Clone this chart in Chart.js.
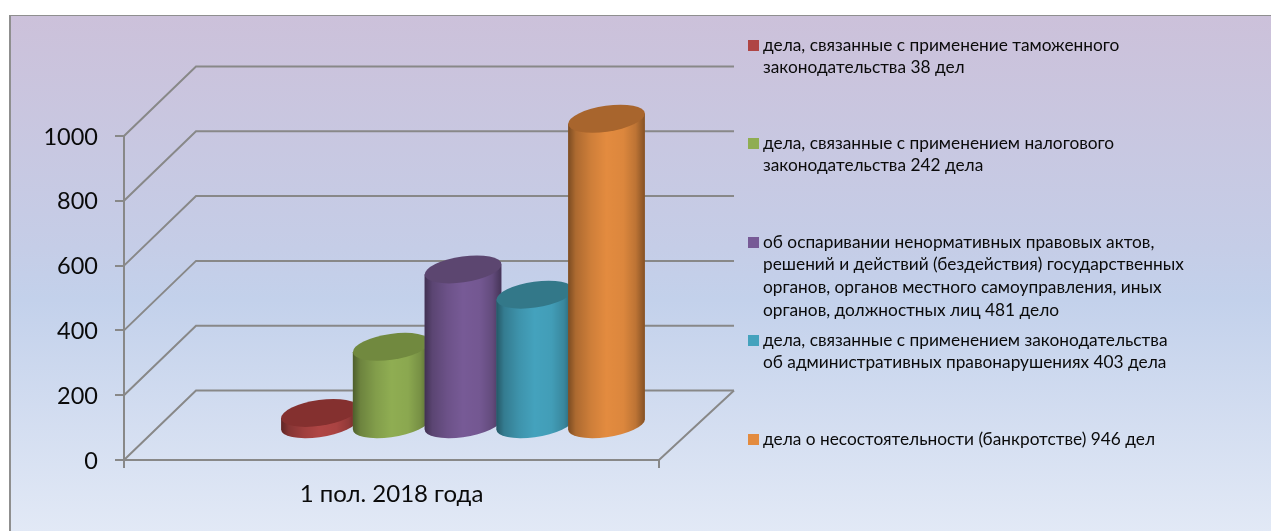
<!DOCTYPE html>
<html>
<head>
<meta charset="utf-8">
<style>
html,body{margin:0;padding:0;background:#fff;width:1271px;height:531px;overflow:hidden}
#frame{position:absolute;left:9px;top:15px;right:-3px;bottom:-3px;border:2px solid #8f8f8f;border-top-width:1.5px;
background:linear-gradient(180deg,#ccc1da 0%,#c5cde7 45%,#c3d1eb 55%,#e2e9f6 100%)}
canvas{position:absolute;left:0;top:0}
</style>
<script src="https://cdn.jsdelivr.net/npm/chart.js@4"></script>
</head>
<body>
<div id="frame"></div>
<canvas id="c" width="1271" height="531"></canvas>
<script>
const categories = ['1 пол. 2018 года'];
const seriesNames = [
  ['дела, связанные с применение таможенного','законодательства 38 дел'],
  ['дела, связанные с применением налогового','законодательства 242 дела'],
  ['об оспаривании ненормативных правовых актов,','решений и действий (бездействия) государственных','органов, органов местного самоуправления, иных','органов, должностных лиц 481 дело'],
  ['дела, связанные с применением законодательства','об административных правонарушениях 403 дела'],
  ['дела о несостоятельности (банкротстве) 946 дел']
];
const seriesValues = [38, 242, 481, 403, 946];
const seriesColors = ['#af4544','#8fad52','#775a96','#44a2bd','#e38b3f'];
const capColors = ['#84302f','#71893f','#5c4670','#337889','#a8652d'];
const legendTops = [45, 143, 242, 340, 439];

const FONT = 'Lato, "Open Sans", sans-serif';
const GRID = '#888888';
const DEPTH_X = 72, DEPTH_Y = 69.5, RIGHT_BACK = 734;
const SHIFT_X = 71.5, SHIFT_Y = 34.75;

const walls = {
  id:'walls',
  beforeDatasetsDraw(chart){
    const {ctx, chartArea:a, scales:{y}} = chart;
    ctx.save();
    ctx.strokeStyle = GRID; ctx.lineWidth = 2;
    y.ticks.forEach(t=>{
      const py = y.getPixelForValue(t.value);
      ctx.beginPath();
      ctx.moveTo(a.left,py);
      ctx.lineTo(a.left+DEPTH_X,py-DEPTH_Y);
      ctx.lineTo(RIGHT_BACK,py-DEPTH_Y);
      ctx.stroke();
    });
    const b = y.getPixelForValue(0);
    ctx.beginPath();
    ctx.moveTo(a.left,b);
    ctx.lineTo(a.right,b);
    ctx.lineTo(RIGHT_BACK,b-DEPTH_Y);
    ctx.stroke();
    ctx.restore();
  }
};

function diskPath(ctx,cx,cy,R,D,from,to){
  ctx.save();
  ctx.transform(R,0,D,-D,cx,cy);
  ctx.arc(0,0,1,from,to,false);
  ctx.restore();
}
const cylinders = {
  id:'cylinders',
  beforeDatasetDraw(){ return false; },
  afterDatasetsDraw(chart){
    const {ctx} = chart;
    seriesValues.forEach((v,i)=>{
      const el = chart.getDatasetMeta(i).data[0];
      const W = el.width*0.535, D = el.width*0.195, R = Math.sqrt(W*W-D*D);
      const cx = el.x+SHIFT_X, top = el.y-SHIFT_Y, base = el.base-SHIFT_Y;
      const s = D*D/W;
      const t0 = Math.atan2(D,R);
      ctx.save();
      const g = ctx.createLinearGradient(cx-W,0,cx+W,0);
      g.addColorStop(0,'rgba(0,0,0,0.46)');
      g.addColorStop(0.1,'rgba(0,0,0,0.24)');
      g.addColorStop(0.3,'rgba(0,0,0,0.09)');
      g.addColorStop(0.5,'rgba(0,0,0,0)');
      g.addColorStop(0.72,'rgba(0,0,0,0.03)');
      g.addColorStop(0.88,'rgba(0,0,0,0.17)');
      g.addColorStop(1,'rgba(0,0,0,0.42)');
      ctx.beginPath();
      ctx.moveTo(cx-W,top+s);ctx.lineTo(cx-W,base+s);
      diskPath(ctx,cx,base,R,D,Math.PI+t0,2*Math.PI+t0);
      ctx.lineTo(cx+W,top-s);
      ctx.closePath();
      ctx.fillStyle = seriesColors[i];
      ctx.fill();
      ctx.fillStyle = g;
      ctx.fill();
      ctx.fillStyle = capColors[i];
      ctx.beginPath();
      diskPath(ctx,cx,top,R,D,0,Math.PI*2);
      ctx.closePath();
      ctx.fill();
      ctx.restore();
    });
  }
};
const sideLegend = {
  id:'sideLegend',
  afterDraw(chart){
    const {ctx} = chart;
    ctx.save();
    ctx.font = '17.3px '+FONT;
    ctx.textBaseline = 'middle';
    ctx.textAlign = 'left';
    seriesNames.forEach((lines,i)=>{
      ctx.fillStyle = seriesColors[i];
      ctx.fillRect(748,legendTops[i]-5,11,11);
      ctx.fillStyle = '#0a0a0a';
      lines.forEach((l,j)=>ctx.fillText(l,763,legendTops[i]+j*22.7));
    });
    ctx.restore();
  }
};

new Chart(document.getElementById('c'),{
  type:'bar',
  data:{
    labels:categories,
    datasets:seriesValues.map((v,i)=>({
      label:seriesNames[i].join(' '),
      data:[v],
      backgroundColor:seriesColors[i],
      categoryPercentage:0.6706,
      barPercentage:1
    }))
  },
  options:{
    responsive:false,
    animation:false,
    layout:{padding:{left:0,right:612,top:136,bottom:0}},
    plugins:{legend:{display:false},tooltip:{enabled:false},title:{display:false}},
    scales:{
      x:{
        afterFit(s){s.height=71;},
        border:{display:false},
        grid:{drawOnChartArea:false,drawTicks:true,tickLength:8,color:GRID,lineWidth:2},
        ticks:{color:'#0a0a0a',font:{family:FONT,size:24},padding:12,maxRotation:0}
      },
      y:{
        min:0,max:1000,
        afterFit(s){s.width=124;},
        border:{display:true,color:GRID,width:2},
        grid:{drawOnChartArea:false,drawTicks:true,tickLength:9,color:GRID,lineWidth:2},
        ticks:{stepSize:200,color:'#0a0a0a',font:{family:FONT,size:23.5},padding:17,labelOffset:1,callback:v=>String(v)}
      }
    }
  },
  plugins:[walls,cylinders,sideLegend]
});
</script>
</body>
</html>
